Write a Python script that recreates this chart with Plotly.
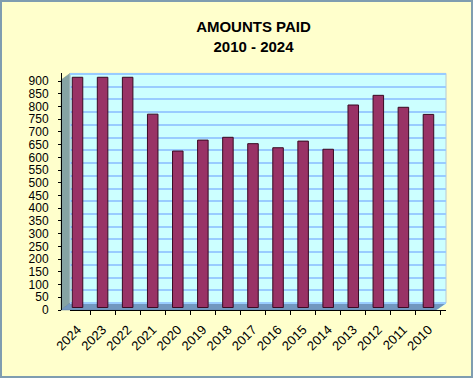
import plotly.graph_objects as go

years = ["2024", "2023", "2022", "2021", "2020", "2019", "2018", "2017",
         "2016", "2015", "2014", "2013", "2012", "2011", "2010"]
amounts = [905, 905, 905, 760, 615, 658, 669, 644, 628, 654, 622, 796, 834, 787, 759]
y_ticks = list(range(0, 901, 50))

W, H = 473, 378
L, R, T, B = 61, 27, 73, 68
pw, ph = W - L - R, H - T - B
K = 0.2544  # pixels per unit


def px(x):
    return (x - L) / pw


def py(y):
    return (H - B - y) / ph


span = ph / K

fig = go.Figure()
fig.add_trace(go.Bar(
    x=years, y=amounts, width=0.42,
    marker=dict(color="#993366", line=dict(color="#3a0a22", width=1)),
    hoverinfo="x+y", yaxis="y",
))
# invisible helper traces so the overlay axes are drawn
fig.add_trace(go.Scatter(x=[years[0]], y=[0], yaxis="y2", mode="markers",
                         marker=dict(opacity=0), hoverinfo="skip"))
fig.add_trace(go.Scatter(x=[years[0]], y=[0], yaxis="y3", mode="markers",
                         marker=dict(opacity=0), hoverinfo="skip"))

b1 = -2.5 / K
b2 = -7.0 / K

fig.update_layout(
    width=W, height=H,
    margin=dict(l=L, r=R, t=T, b=B),
    paper_bgcolor="#FFFFCC",
    plot_bgcolor="#CCFFFF",
    showlegend=False,
    font=dict(family="Liberation Sans, Arial, sans-serif", color="#000000", size=13),
    title=dict(
        text="<b>AMOUNTS PAID</b><br><b>2010 - 2024</b>",
        x=0.5, xref="paper", xanchor="center",
        y=1 - 32 / H, yref="container", yanchor="middle",
        font=dict(size=15, color="#000000"),
    ),
    xaxis=dict(
        domain=[px(70), 1],
        type="category",
        range=[-0.3, 14.7],
        anchor="free", position=0,
        showline=True, linecolor="#000000", linewidth=1,
        ticks="outside", ticklen=4, tickcolor="#000000",
        tickson="boundaries",
        tickangle=-45,
        tickfont=dict(size=13),
        ticklabelstandoff=6,
        showgrid=False, zeroline=False,
    ),
    yaxis=dict(
        range=[b1, b1 + span],
        showticklabels=False, showgrid=False, zeroline=False,
        showline=False, ticks="",
    ),
    yaxis2=dict(
        overlaying="y", anchor="x",
        range=[b2, b2 + span],
        tickvals=y_ticks,
        showgrid=True, gridcolor="#99CCFF", gridwidth=1.5,
        showticklabels=False, ticks="", zeroline=False, showline=False,
    ),
    yaxis3=dict(
        overlaying="y", anchor="free", position=0,
        range=[0, span],
        tickvals=y_ticks, ticktext=[str(v) for v in y_ticks],
        showgrid=False, zeroline=False,
        showline=True, linecolor="#000000", linewidth=1,
        ticks="outside", ticklen=3, tickcolor="#000000",
        tickfont=dict(size=12),
        ticklabelstandoff=7,
    ),
)

shapes = []
# left side wall (3D)
shapes.append(dict(
    type="path", xref="paper", yref="paper", layer="between",
    path=f"M {px(61)},{py(310)} L {px(61)},{py(80)} L {px(70)},{py(73.4)} L {px(70)},{py(303)} Z",
    fillcolor="#86A3A3", line=dict(color="#6f8c8c", width=0.5),
))
# floor (3D)
shapes.append(dict(
    type="path", xref="paper", yref="paper", layer="between",
    path=f"M {px(61)},{py(310)} L {px(436)},{py(310)} L {px(446)},{py(303)} L {px(70)},{py(303)} Z",
    fillcolor="#7297BF", line=dict(color="#5f7fa5", width=0.5),
))
# paper-coloured corner right of the floor
shapes.append(dict(
    type="path", xref="paper", yref="paper", layer="between",
    path=f"M {px(436.5)},{py(310.5)} L {px(447)},{py(310.5)} L {px(447)},{py(303.5)} Z",
    fillcolor="#FFFFCC", line=dict(width=0),
))
# back wall outline
shapes.append(dict(
    type="path", xref="paper", yref="paper", layer="between",
    path=f"M {px(70)},{py(303)} L {px(70)},{py(73.4)} L {px(446)},{py(73.4)} L {px(446)},{py(303)}",
    line=dict(color="#b8c8d0", width=1),
))
# outer figure border
shapes.append(dict(
    type="rect", xref="paper", yref="paper", layer="above",
    x0=px(1), x1=px(W - 1), y0=py(H - 1), y1=py(1),
    line=dict(color="#7f9db0", width=2),
))
fig.update_layout(shapes=shapes)

fig.write_html("out.html", config={"displayModeBar": False},
               post_script="document.body.style.margin='0px';")
